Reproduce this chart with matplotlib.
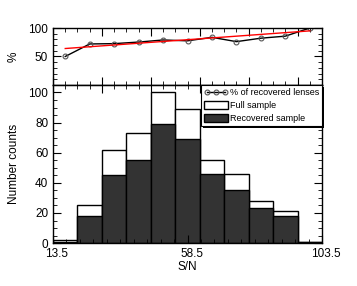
import numpy as np
import matplotlib
matplotlib.use('Agg')
import matplotlib.pyplot as plt
import matplotlib.transforms as mtransforms
import matplotlib.patheffects as pe
from matplotlib.ticker import MultipleLocator, FixedLocator, NullFormatter

plt.rcParams['font.family'] = ['Liberation Sans', 'DejaVu Sans']

# histogram in S/N, 11 bins from 13.5 to 103.5
sn_min, sn_max, n_bins = 13.5, 103.5, 11
full_counts = [2, 25, 62, 73, 100, 89, 55, 46, 28, 21, 1]
recovered_counts = [1, 18, 45, 55, 79, 69, 46, 35, 23, 18, 1]
# linear fit to the percentage, read at first and last bin centre
fit_pct = [64, 95]

edges = np.linspace(sn_min, sn_max, n_bins + 1)
width = edges[1] - edges[0]
centres = edges[:-1] + width / 2
pct = 100 * np.array(recovered_counts) / np.array(full_counts)

fig = plt.figure(figsize=(3.57, 2.86), dpi=100)
ax_top = fig.add_axes([0.1485, 0.703, 0.7535, 0.199])
ax = fig.add_axes([0.1485, 0.150, 0.7535, 0.553])

# lower panel: histograms
ax.bar(edges[:-1], full_counts, width=width, align='edge', color='white',
       edgecolor='black', linewidth=1.0, label='Full sample')
ax.bar(edges[:-1], recovered_counts, width=width, align='edge', color='#333333',
       edgecolor='black', linewidth=1.0, label='Recovered sample')
ax.set_xlim(sn_min, sn_max)
ax.set_ylim(0, 105)
ax.set_xticks([13.5, 58.5, 103.5])
ax.set_xticklabels(['13.5', '58.5', '103.5'])
ax.xaxis.set_minor_locator(MultipleLocator(4.5))
ax.yaxis.set_major_locator(MultipleLocator(20))
ax.yaxis.set_minor_locator(MultipleLocator(5))
ax.tick_params(which='both', direction='in', right=True, top=False, labelsize=8.5)
ax.tick_params(which='major', length=6)
ax.tick_params(which='minor', length=3)
ax.set_xlabel('S/N', fontsize=8.5, labelpad=1)
ax.set_ylabel('Number counts', fontsize=8.5, labelpad=6)

# x tick labels sit a little right of their ticks in the original
shift = mtransforms.ScaledTranslation(4 / 100, 0, fig.dpi_scale_trans)
for lab in ax.get_xticklabels():
    lab.set_transform(lab.get_transform() + shift)

top_major = edges[::2]
top_minor = np.linspace(sn_min, sn_max, 2 * n_bins + 1)
sec = ax.secondary_xaxis('top')
sec.xaxis.set_major_locator(FixedLocator(top_major))
sec.xaxis.set_minor_locator(FixedLocator(top_minor))
sec.xaxis.set_major_formatter(NullFormatter())
sec.tick_params(which='both', direction='in')
sec.tick_params(which='major', length=6)
sec.tick_params(which='minor', length=3)

# upper panel: fraction recovered
line, = ax_top.plot(centres, pct, color='black', linewidth=1.0, marker='o',
                    markersize=3.5, markerfacecolor='none', markeredgecolor='#555555',
                    markeredgewidth=0.8, label='% of recovered lenses')
ax_top.plot([centres[0], centres[-1]], fit_pct, color='red', linewidth=1.0)
ax_top.set_xlim(sn_min, sn_max)
ax_top.set_ylim(0, 100)
ax_top.set_yticks([50, 100])
ax_top.yaxis.set_minor_locator(MultipleLocator(10))
ax_top.xaxis.set_major_locator(FixedLocator(top_major))
ax_top.xaxis.set_minor_locator(FixedLocator(top_minor))
ax_top.xaxis.set_major_formatter(NullFormatter())
ax_top.tick_params(which='both', direction='in', top=True, right=True, labelsize=8.5)
ax_top.tick_params(which='major', length=6)
ax_top.tick_params(which='minor', length=3)
ax_top.set_ylabel('%', fontsize=8.5, labelpad=6)

handles, labels = ax.get_legend_handles_labels()
leg = ax.legend([line] + handles, ['% of recovered lenses'] + labels,
                loc='upper right', bbox_to_anchor=(1.0, 1.0), fontsize=6.5,
                frameon=True, fancybox=False, shadow=False, framealpha=1.0,
                numpoints=3, handlelength=2.6, handleheight=1.0, handletextpad=0.2,
                borderpad=0.35, labelspacing=0.4, borderaxespad=0.0)
frame = leg.get_frame()
frame.set_edgecolor('black')
frame.set_facecolor('white')
frame.set_linewidth(0.8)
frame.set_path_effects([pe.SimplePatchShadow(offset=(1.5, -1.5), shadow_rgbFace='black',
                                             alpha=1.0), pe.Normal()])
leg.set_zorder(10)

for a in (ax, ax_top):
    for s in a.spines.values():
        s.set_linewidth(1.0)

fig.savefig('out.png', dpi=100)
